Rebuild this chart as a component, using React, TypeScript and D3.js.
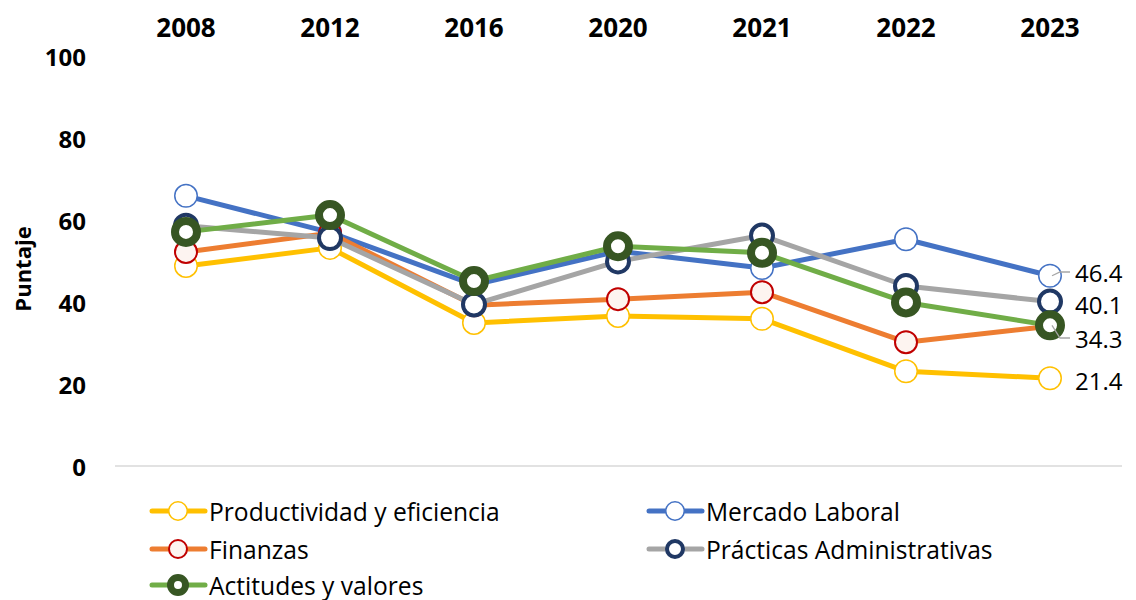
import React from "react";
import * as d3 from "d3";

const years = ["2008", "2012", "2016", "2020", "2021", "2022", "2023"];
const yTicks = [0, 20, 40, 60, 80, 100];

const productividad = [48.8, 53.2, 34.9, 36.6, 35.9, 23.1, 21.4];
const mercado = [65.9, 57.0, 44.2, 52.4, 48.3, 55.3, 46.4];
const finanzas = [52.2, 56.8, 39.2, 40.7, 42.4, 30.2, 34.1];
const practicas = [58.6, 55.6, 39.4, 49.9, 56.2, 43.9, 40.1];
const actitudes = [57.1, 61.2, 45.1, 53.6, 52.0, 39.9, 34.3];

const endLabels = ["46.4", "40.1", "34.3", "21.4"];

type Series = {
  name: string;
  values: number[];
  line: string;
  stroke: string;
  fill: string;
  r: number; // outer radius
  sw: number;
};

const series: Series[] = [
  { name: "Productividad y eficiencia", values: productividad, line: "#FFC000", stroke: "#FFC000", fill: "#ffffff", r: 12, sw: 1.5 },
  { name: "Mercado Laboral", values: mercado, line: "#4472C4", stroke: "#4472C4", fill: "#ffffff", r: 12, sw: 1.5 },
  { name: "Finanzas", values: finanzas, line: "#ED7D31", stroke: "#C00000", fill: "#FDF4F0", r: 12, sw: 2 },
  { name: "Prácticas Administrativas", values: practicas, line: "#A5A5A5", stroke: "#203864", fill: "#ffffff", r: 13, sw: 4 },
  { name: "Actitudes y valores", values: actitudes, line: "#70AD47", stroke: "#375623", fill: "#ffffff", r: 15, sw: 8 },
];

const font = "'Open Sans', 'Noto Sans', sans-serif";

export default function App() {
  const width = 1136;
  const height = 600;

  const x = d3.scalePoint<string>().domain(years).range([186, 1050]);
  const y = d3.scaleLinear().domain([0, 100]).range([466, 56]);
  const line = d3
    .line<number>()
    .x((_, i) => x(years[i]) as number)
    .y((d) => y(d));

  const lastX = x("2023") as number;
  const labelPos = [
    { text: endLabels[0], v: mercado[6], ly: 272, leader: true },
    { text: endLabels[1], v: practicas[6], ly: 304, leader: false },
    { text: endLabels[2], v: actitudes[6], ly: 338, leader: true },
    { text: endLabels[3], v: productividad[6], ly: 380, leader: false },
  ];

  const legendPos = [
    { col: 0, row: 0 },
    { col: 1, row: 0 },
    { col: 0, row: 1 },
    { col: 1, row: 1 },
    { col: 0, row: 2 },
  ];
  const colX = [150, 647];
  const rowY = [511, 549, 585];

  return (
    <svg
      width={width}
      height={height}
      style={{ position: "absolute", left: 0, top: 0, background: "#fff" }}
      fontFamily={font}
    >
      <line x1={115} x2={1122} y1={y(0)} y2={y(0)} stroke="#D9D9D9" strokeWidth={1.3} />

      {yTicks.map((t) => (
        <text
          key={t}
          x={86}
          y={y(t)}
          textAnchor="end"
          dominantBaseline="central"
          fontSize={24}
          fontWeight={700}
          fill="#000"
        >
          {t}
        </text>
      ))}
      <text
        transform={`translate(22,${y(50) + 8}) rotate(-90)`}
        textAnchor="middle"
        dominantBaseline="central"
        fontSize={22}
        fontWeight={700}
      >
        Puntaje
      </text>

      {years.map((yr) => (
        <text
          key={yr}
          x={x(yr)}
          y={27}
          textAnchor="middle"
          dominantBaseline="central"
          fontSize={26}
          fontWeight={700}
        >
          {yr}
        </text>
      ))}

      {series.map((s) => (
        <g key={s.name}>
          <path d={line(s.values) || ""} fill="none" stroke={s.line} strokeWidth={5} strokeLinejoin="round" />
          {s.values.map((v, i) => (
            <circle
              key={i}
              cx={x(years[i])}
              cy={y(v)}
              r={s.r - s.sw / 2}
              fill={s.fill}
              stroke={s.stroke}
              strokeWidth={s.sw}
            />
          ))}
        </g>
      ))}

      {labelPos.map((l) => (
        <g key={l.text}>
          {l.leader && (
            <polyline
              points={`${lastX + 2},${y(l.v)} ${lastX + 10},${l.ly} ${lastX + 20},${l.ly}`}
              fill="none"
              stroke="#A6A6A6"
              strokeWidth={1.3}
            />
          )}
          <text x={lastX + 25} y={l.ly} dominantBaseline="central" fontSize={24} fill="#000">
            {l.text}
          </text>
        </g>
      ))}

      {series.map((s, i) => {
        const lx = colX[legendPos[i].col];
        const ly = rowY[legendPos[i].row];
        const rr = Math.min(s.r, 11) - (s.sw > 4 ? 0 : 1);
        return (
          <g key={s.name}>
            <line x1={lx + 2} x2={lx + 55} y1={ly} y2={ly} stroke={s.line} strokeWidth={5} strokeLinecap="round" />
            <circle
              cx={lx + 28}
              cy={ly}
              r={rr - Math.min(s.sw, 7) / 2}
              fill={s.fill}
              stroke={s.stroke}
              strokeWidth={Math.min(s.sw, 7)}
            />
            <text x={lx + 59} y={ly} dominantBaseline="central" fontSize={24.6} fill="#000">
              {s.name}
            </text>
          </g>
        );
      })}
    </svg>
  );
}
